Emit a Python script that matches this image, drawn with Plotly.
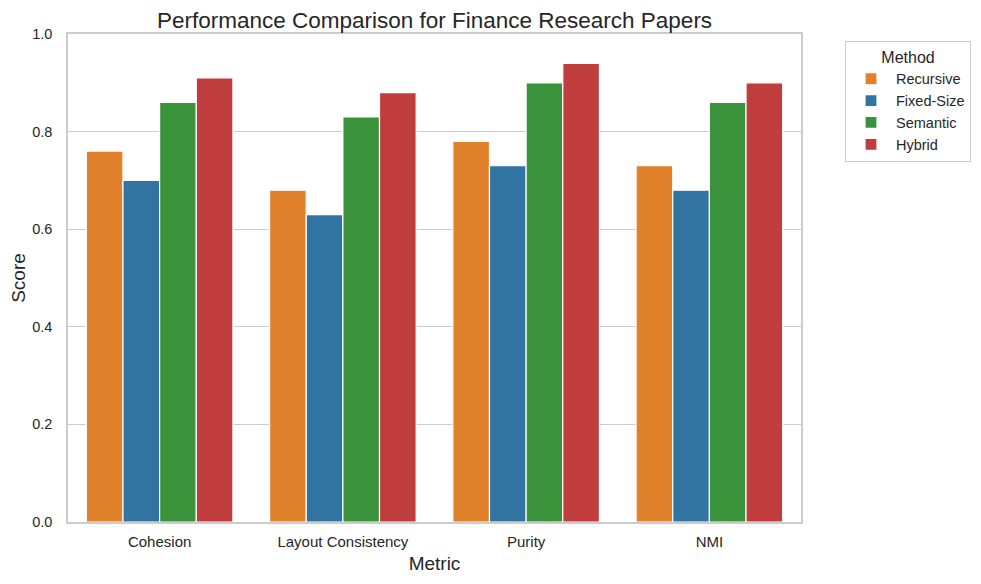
import plotly.graph_objects as go

metrics = ["Cohesion", "Layout Consistency", "Purity", "NMI"]
methods = ["Recursive", "Fixed-Size", "Semantic", "Hybrid"]
recursive = [0.76, 0.68, 0.78, 0.73]
fixed_size = [0.70, 0.63, 0.73, 0.68]
semantic = [0.86, 0.83, 0.90, 0.86]
hybrid = [0.91, 0.88, 0.94, 0.90]
colors = ["#e1812c", "#3274a1", "#3a923a", "#c03d3e"]
series = [recursive, fixed_size, semantic, hybrid]

font_family = "Liberation Sans, Arial, sans-serif"

W, H = 965, 568  # page body has an 8px margin

fig = go.Figure()
for name, vals, col in zip(methods, series, colors):
    fig.add_trace(go.Bar(
        x=metrics, y=vals, name=name,
        marker=dict(color=col, line=dict(color="white", width=1.2)),
    ))

fig.update_layout(
    width=W, height=H,
    margin=dict(l=60, r=172, t=26, b=54),
    paper_bgcolor="white", plot_bgcolor="white",
    barmode="group", bargap=0.2, bargroupgap=0,
    font=dict(family=font_family, color="#262626", size=15),
    title=dict(text="Performance Comparison for Finance Research Papers",
               x=0.5, xref="paper", xanchor="center",
               y=1 - 12/H, yref="container", yanchor="middle",
               font=dict(size=22.5, color="#262626")),
    xaxis=dict(title=dict(text="Metric", font=dict(size=19), standoff=8),
               automargin=False,
               showline=True, linecolor="#cccccc", linewidth=1.5, mirror=True,
               showgrid=False, ticks="outside", ticklen=5,
               tickcolor="rgba(0,0,0,0)", tickfont=dict(size=15)),
    yaxis=dict(title=dict(text="Score", font=dict(size=19), standoff=12),
               automargin=False,
               range=[0, 1.0], tickvals=[0, 0.2, 0.4, 0.6, 0.8, 1.0],
               tickformat=".1f",
               showline=True, linecolor="#cccccc", linewidth=1.5, mirror=True,
               showgrid=True, gridcolor="#cccccc", gridwidth=1,
               zeroline=False, ticks="outside", ticklen=11,
               tickcolor="rgba(0,0,0,0)", tickfont=dict(size=14.5)),
    legend=dict(title=dict(text="Method", font=dict(size=16), side="top center"),
                xref="container", yref="container",
                x=837/W, y=1 - 33/H, xanchor="left", yanchor="top",
                bordercolor="#cccccc", borderwidth=1, bgcolor="white",
                font=dict(size=14.5), traceorder="normal", itemwidth=40),
)

fig.write_html("out.html")
